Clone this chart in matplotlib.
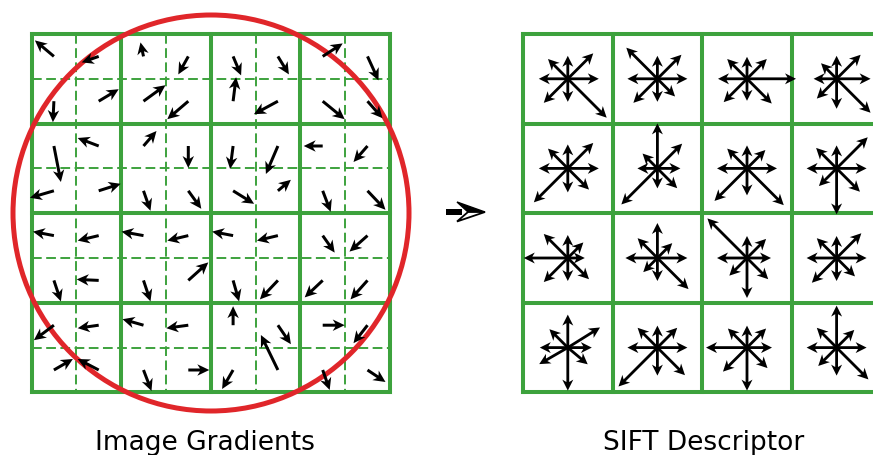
import numpy as np
import matplotlib
matplotlib.use("Agg")
import matplotlib.pyplot as plt
from matplotlib.patches import Circle, Polygon, Rectangle

# gradient vectors per sub-cell (8x8), pixel units, y pointing down
grad_u = [
    [-19, -17, -3, -10, 8, 11, 20, 11],
    [-1, 20, 22, -21, 3, -24, 22, 15],
    [7, -21, 13, 0, -3, -12, -19, -14],
    [-24, 22, 7, 13, 21, 13, 8, 18],
    [-21, -21, -22, -21, -21, -21, 12, -18],
    [7, -22, 7, 20, 6, -18, -18, -17],
    [-20, -21, -21, -22, 0, 13, 22, -14],
    [19, -21, 8, 21, -11, -17, 7, 18],
]
grad_v = [
    [-16, 6, -14, 18, 19, 18, -13, 24],
    [21, -12, -16, 18, -24, 13, 18, 17],
    [36, -8, -15, 22, 23, 28, 0, 16],
    [7, -7, 20, 18, 13, -11, 21, 19],
    [-4, 5, -4, 5, -4, 5, 17, 16],
    [21, -1, 21, -18, 21, 19, 17, 19],
    [15, 3, -6, 3, -19, 19, 0, 18],
    [-11, -11, 21, 0, 19, -35, 20, 12],
]

# orientation histograms, bins: E, NE, N, NW, W, SW, S, SE
bin_angles = [0, 45, 90, 135, 180, 225, 270, 315]
hist = [
    [[31, 36, 23, 28, 29, 34, 23, 55], [30, 34, 23, 44, 30, 34, 23, 25],
     [49, 28, 22, 28, 29, 33, 22, 35], [34, 34, 23, 22, 23, 28, 30, 48]],
    [[31, 36, 24, 28, 29, 48, 24, 30], [23, 35, 45, 21, 20, 51, 20, 28],
     [30, 26, 23, 28, 30, 46, 27, 52], [30, 44, 23, 29, 30, 25, 46, 33]],
    [[17, 22, 23, 34, 44, 34, 23, 30], [30, 21, 35, 28, 32, 20, 23, 44],
     [24, 27, 22, 56, 30, 25, 40, 30], [30, 35, 22, 28, 30, 35, 23, 26]],
    [[24, 38, 33, 26, 28, 33, 43, 26], [30, 28, 22, 28, 30, 55, 28, 39],
     [25, 27, 22, 27, 41, 34, 43, 29], [30, 25, 42, 28, 30, 26, 28, 45]],
]
# a few bins in the reference are drawn slightly off the 45 degree grid
angle_fix = {(3, 0): {1: 32, 5: 210, 7: 320}}

labels = ["Image Gradients", "SIFT Descriptor"]

green = "#3da23d"
red = "#e0262a"

W, H = 873, 456
fig = plt.figure(figsize=(W / 100, H / 100), dpi=100)
ax = fig.add_axes([0, 0, 1, 1])
ax.set_xlim(0, W)
ax.set_ylim(H, 0)
ax.axis("off")

cell = 89.6
top = 35
left_x0 = 31.5
right_x0 = 523


def draw_grid(x0, dashed):
    if dashed:
        for k in range(4):
            m = x0 + cell * (k + 0.5)
            ax.plot([m, m], [top, top + 4 * cell], color=green, lw=1.4,
                    ls=(0, (5, 2.3)), zorder=1)
            m = top + cell * (k + 0.5)
            ax.plot([x0, x0 + 4 * cell], [m, m], color=green, lw=1.4,
                    ls=(0, (5, 2.3)), zorder=1)
    for k in range(5):
        ax.plot([x0 + k * cell] * 2, [top, top + 4 * cell], color=green,
                lw=2.9, solid_capstyle="projecting", zorder=2)
        ax.plot([x0, x0 + 4 * cell], [top + k * cell] * 2, color=green,
                lw=2.9, solid_capstyle="projecting", zorder=2)


draw_grid(left_x0, True)
draw_grid(right_x0, False)

ax.add_patch(Circle((211, 214), 198, fill=False, ec=red, lw=3.6, zorder=3))

# gradient arrows
sub = cell / 2
for i in range(8):
    for j in range(8):
        cx = left_x0 + sub * (j + 0.5)
        cy = top + sub * (i + 0.5)
        ax.arrow(cx, cy, grad_u[i][j], grad_v[i][j], width=3.0,
                 head_width=11.5, head_length=12, overhang=0.22,
                 length_includes_head=True, color="black", lw=0, zorder=4)

# histogram stars
for r in range(4):
    for c in range(4):
        cx = right_x0 + cell * (c + 0.5)
        cy = top + cell * (r + 0.5)
        for b, ang in enumerate(bin_angles):
            ang = angle_fix.get((r, c), {}).get(b, ang)
            m = hist[r][c][b]
            t = np.deg2rad(ang)
            ax.arrow(cx, cy, m * np.cos(t), -m * np.sin(t), width=2.8,
                     head_width=11, head_length=11, overhang=0.22,
                     length_includes_head=True, color="black", lw=0, zorder=4)

# arrow between the two panels
ax_x, ax_y = 446, 213
ax.add_patch(Rectangle((ax_x, ax_y - 2.8), 16, 5.6, color="black", lw=0, zorder=4))
ax.add_patch(Polygon([(ax_x + 39, ax_y), (ax_x + 11, ax_y - 10), (ax_x + 22, ax_y)],
                     closed=True, fc="black", ec="black", lw=1, zorder=5))
ax.add_patch(Polygon([(ax_x + 39, ax_y), (ax_x + 22, ax_y), (ax_x + 11, ax_y + 9.5)],
                     closed=True, fc="white", ec="black", lw=1.3, zorder=5))

ax.text(205, 450, labels[0], fontsize=19, ha="center", va="baseline",
        family="DejaVu Sans")
ax.text(704, 450, labels[1], fontsize=19, ha="center", va="baseline",
        family="DejaVu Sans")

fig.savefig("out.png", dpi=100)
